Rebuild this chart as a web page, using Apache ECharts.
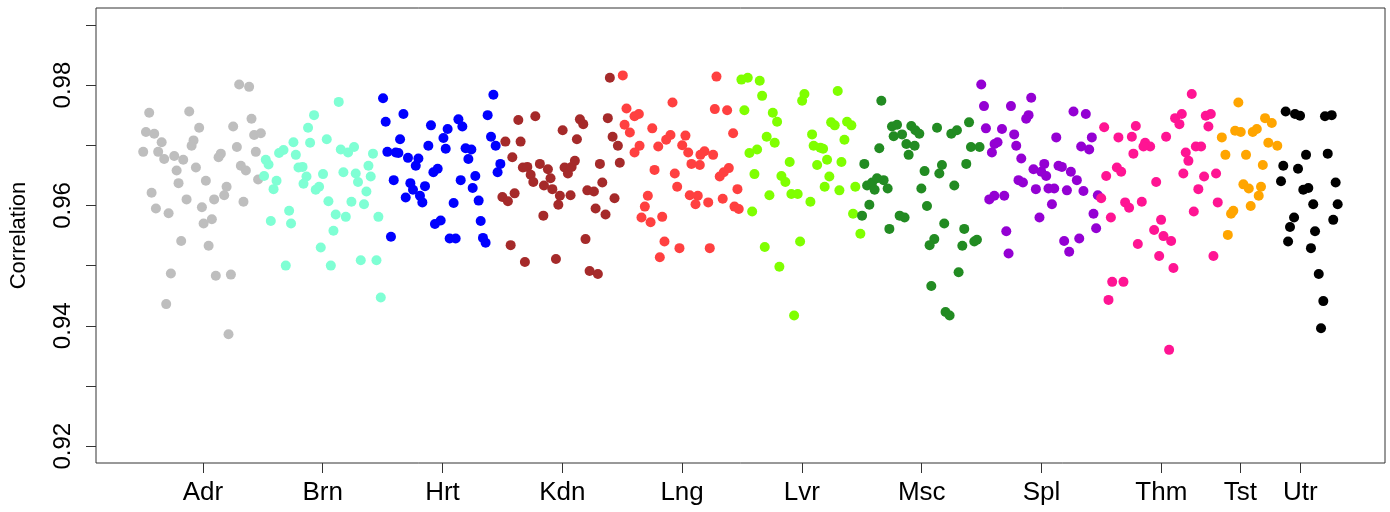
<!DOCTYPE html>
<html>
<head>
<meta charset="utf-8">
<script src="https://cdn.jsdelivr.net/npm/echarts@6/dist/echarts.min.js"></script>
<style>html,body{margin:0;padding:0;background:#fff;}#chart{width:1390px;height:512px;}</style>
</head>
<body>
<div id="chart"></div>
<script>
const categories = ['Adr','Brn','Hrt','Kdn','Lng','Lvr','Msc','Spl','Thm','Tst','Utr'];
const positions = [1,2,3,4,5,6,7,8,9,9.66,10.16];
const colors = ['#BEBEBE','#7FFFD4','#0000FF','#A52A2A','#FF4040','#7FFF00','#228B22','#9400D3','#FF1493','#FFA500','#000000'];
const yTicks = [0.92,0.93,0.94,0.95,0.96,0.97,0.98,0.99];
const yLabels = [0.92,0.94,0.96,0.98];

const adrX = [1.303,1.386,0.552,0.886,1.406,0.969,1.253,0.525,0.594,1.428,1.484,0.656,0.922,0.906,0.502,0.627,1.284,1.442,0.677,0.761,0.836,1.150,1.131,0.942,0.781,1.317,1.359,1.461,0.797,1.025,0.572,1.198,1.178,0.864,1.094,1.339,0.608,0.714,0.992,1.075,1.006,0.819,1.048,0.733,1.108,1.234,0.694,1.214];
const adrY = [0.9801,0.9797,0.9754,0.9756,0.9744,0.9729,0.9731,0.9722,0.9719,0.9717,0.9720,0.9705,0.9708,0.9699,0.9689,0.9689,0.9697,0.9689,0.9677,0.9682,0.9676,0.9686,0.9680,0.9663,0.9658,0.9666,0.9658,0.9643,0.9637,0.9641,0.9621,0.9631,0.9617,0.9610,0.9610,0.9606,0.9595,0.9587,0.9597,0.9577,0.9570,0.9541,0.9533,0.9487,0.9483,0.9485,0.9436,0.9386];
const brnX = [2.134,1.928,1.878,1.756,1.895,2.034,1.673,1.636,1.776,2.151,2.212,2.262,2.420,1.525,1.548,2.382,1.798,1.832,1.511,1.615,1.590,1.865,1.840,2.003,2.173,2.276,2.295,2.401,1.970,1.942,2.365,2.048,2.240,2.345,1.720,1.567,1.736,2.109,2.193,2.465,2.090,1.984,1.692,2.068,2.318,2.449,2.485];
const brnY = [0.9772,0.9750,0.9729,0.9705,0.9704,0.9710,0.9692,0.9687,0.9684,0.9693,0.9688,0.9697,0.9686,0.9676,0.9668,0.9666,0.9663,0.9664,0.9649,0.9641,0.9627,0.9648,0.9636,0.9652,0.9655,0.9653,0.9639,0.9648,0.9631,0.9626,0.9623,0.9607,0.9606,0.9602,0.9591,0.9574,0.9570,0.9585,0.9581,0.9581,0.9558,0.9530,0.9500,0.9500,0.9509,0.9509,0.9447];
const hrtX = [2.504,3.425,2.674,2.526,2.904,3.377,3.133,3.166,3.043,2.646,3.008,3.405,3.444,2.540,2.610,2.632,2.882,3.027,3.193,3.241,2.712,2.799,2.777,3.216,3.483,2.960,2.924,3.460,2.593,2.732,3.152,3.274,2.854,2.754,3.252,2.693,2.812,2.832,3.302,3.093,2.985,2.937,3.319,2.570,3.060,3.110,3.338,3.360];
const hrtY = [0.9778,0.9784,0.9752,0.9739,0.9733,0.9750,0.9743,0.9731,0.9727,0.9710,0.9712,0.9714,0.9699,0.9689,0.9688,0.9687,0.9699,0.9694,0.9695,0.9693,0.9679,0.9678,0.9666,0.9677,0.9669,0.9661,0.9655,0.9655,0.9642,0.9637,0.9642,0.9649,0.9632,0.9626,0.9629,0.9613,0.9616,0.9605,0.9608,0.9604,0.9575,0.9569,0.9574,0.9548,0.9545,0.9545,0.9546,0.9538];
const kdnX = [3.633,3.775,4.003,4.147,4.175,4.380,3.525,3.652,4.122,4.420,4.464,3.583,3.671,3.708,3.813,3.736,3.758,3.880,3.902,3.847,3.917,4.019,4.047,4.078,4.105,4.314,4.480,4.334,4.209,4.264,3.500,3.546,3.602,3.980,4.069,3.967,3.842,4.278,4.361,4.436,4.194,3.569,3.688,3.947,4.228,4.297,4.397];
const kdnY = [0.9742,0.9748,0.9725,0.9743,0.9735,0.9745,0.9706,0.9706,0.9710,0.9714,0.9699,0.9680,0.9663,0.9664,0.9669,0.9651,0.9639,0.9660,0.9645,0.9633,0.9627,0.9663,0.9653,0.9664,0.9674,0.9669,0.9671,0.9638,0.9625,0.9623,0.9614,0.9607,0.9620,0.9616,0.9617,0.9601,0.9583,0.9595,0.9585,0.9612,0.9544,0.9534,0.9506,0.9511,0.9491,0.9486,0.9812];
const lngX = [4.505,5.287,4.920,4.536,4.603,4.639,5.273,5.376,4.520,4.564,4.751,5.426,4.903,4.867,5.028,4.801,4.645,4.603,5.001,5.051,5.187,5.153,5.259,5.078,5.148,4.770,4.939,5.390,5.348,5.314,4.959,5.462,4.714,5.064,5.131,5.112,5.218,5.339,5.437,5.473,4.689,4.661,4.737,4.834,4.853,4.978,5.231,4.814];
const lngY = [0.9816,0.9814,0.9771,0.9761,0.9748,0.9752,0.9760,0.9758,0.9734,0.9721,0.9728,0.9720,0.9717,0.9709,0.9716,0.9698,0.9699,0.9688,0.9700,0.9688,0.9690,0.9684,0.9684,0.9669,0.9667,0.9659,0.9653,0.9662,0.9655,0.9648,0.9631,0.9627,0.9616,0.9617,0.9616,0.9602,0.9605,0.9611,0.9598,0.9594,0.9598,0.9580,0.9572,0.9581,0.9540,0.9529,0.9529,0.9514];
const lvrX = [5.495,5.548,5.648,5.668,6.299,6.021,6.002,5.520,5.757,5.793,6.244,6.274,6.377,6.413,5.706,5.773,6.085,6.355,5.626,5.562,6.098,6.154,6.177,5.898,6.127,6.210,6.330,5.604,5.829,5.862,6.229,6.190,6.313,6.446,5.729,5.912,5.965,6.071,5.585,6.427,5.690,5.985,5.812,5.935,6.488];
const lvrY = [0.9809,0.9812,0.9807,0.9782,0.9790,0.9785,0.9774,0.9758,0.9754,0.9739,0.9738,0.9733,0.9739,0.9733,0.9714,0.9704,0.9718,0.9709,0.9693,0.9687,0.9699,0.9696,0.9694,0.9672,0.9667,0.9676,0.9672,0.9652,0.9649,0.9639,0.9648,0.9631,0.9625,0.9631,0.9617,0.9619,0.9619,0.9606,0.9590,0.9586,0.9531,0.9540,0.9498,0.9417,0.9553];
const mscX = [6.663,6.752,6.794,6.766,6.836,6.913,6.947,6.980,6.872,6.941,6.891,6.646,7.128,7.247,7.294,7.395,7.411,7.483,6.521,7.024,7.169,7.147,7.372,6.544,6.586,6.627,6.682,6.607,6.716,6.997,7.272,6.563,6.502,7.044,6.816,6.857,6.730,7.188,7.355,7.105,7.066,7.339,7.439,7.461,7.308,7.080,7.199,7.233];
const mscY = [0.9774,0.9731,0.9734,0.9715,0.9718,0.9732,0.9725,0.9719,0.9702,0.9699,0.9684,0.9695,0.9729,0.9719,0.9725,0.9738,0.9697,0.9697,0.9669,0.9657,0.9667,0.9653,0.9669,0.9633,0.9638,0.9645,0.9642,0.9626,0.9628,0.9628,0.9633,0.9601,0.9583,0.9599,0.9583,0.9580,0.9561,0.9570,0.9561,0.9544,0.9534,0.9533,0.9540,0.9543,0.9489,0.9466,0.9423,0.9417];
const splX = [7.497,7.520,7.745,7.914,7.892,7.872,8.267,8.370,7.536,7.670,7.772,8.123,8.420,7.633,7.608,7.789,7.586,8.331,8.398,7.831,8.023,7.933,7.998,8.039,8.142,8.170,8.245,8.295,7.808,7.845,7.953,8.058,8.106,8.212,8.350,8.470,7.564,7.606,7.689,8.087,7.983,8.434,8.456,7.706,8.189,8.315,7.725,8.231];
const splY = [0.9801,0.9765,0.9765,0.9779,0.9750,0.9744,0.9756,0.9752,0.9728,0.9727,0.9718,0.9713,0.9713,0.9705,0.9702,0.9699,0.9688,0.9698,0.9693,0.9678,0.9669,0.9660,0.9656,0.9649,0.9666,0.9664,0.9656,0.9642,0.9642,0.9638,0.9627,0.9628,0.9628,0.9625,0.9624,0.9617,0.9610,0.9616,0.9616,0.9602,0.9580,0.9586,0.9562,0.9557,0.9541,0.9545,0.9520,0.9523];
const thmX = [9.254,8.523,8.787,8.642,8.754,9.040,8.865,8.907,8.851,8.767,9.115,9.171,9.151,9.371,9.413,9.393,9.288,9.332,9.204,9.226,9.184,9.357,9.457,8.540,8.629,8.665,8.957,9.309,8.498,8.698,8.731,8.837,9.471,9.271,8.579,8.998,8.940,9.018,9.082,8.804,8.982,9.435,9.101,8.590,8.684,8.559,9.065];
const thmY = [0.9785,0.9730,0.9732,0.9713,0.9714,0.9714,0.9704,0.9698,0.9698,0.9686,0.9745,0.9752,0.9735,0.9749,0.9752,0.9731,0.9698,0.9698,0.9688,0.9674,0.9653,0.9648,0.9653,0.9649,0.9663,0.9656,0.9639,0.9627,0.9612,0.9605,0.9596,0.9606,0.9605,0.9590,0.9580,0.9576,0.9559,0.9549,0.9541,0.9536,0.9516,0.9516,0.9496,0.9473,0.9473,0.9443,0.9360];
const tstX = [9.643,9.866,9.922,9.616,9.663,9.763,9.797,9.505,9.893,9.968,9.535,9.707,9.847,9.685,9.730,9.832,9.813,9.746,9.601,9.582,9.555];
const tstY = [0.9771,0.9745,0.9737,0.9724,0.9722,0.9722,0.9727,0.9713,0.9704,0.9699,0.9684,0.9684,0.9667,0.9635,0.9628,0.9631,0.9616,0.9599,0.9591,0.9586,0.9551];
const utrX = [10.038,10.116,10.158,10.366,10.422,10.208,10.389,10.018,10.141,9.999,10.455,10.185,10.227,10.268,10.472,10.108,10.074,10.435,10.283,10.058,10.249,10.314,10.352,10.333];
const utrY = [0.9756,0.9752,0.9749,0.9748,0.9750,0.9684,0.9686,0.9666,0.9661,0.9640,0.9638,0.9626,0.9629,0.9602,0.9602,0.9580,0.9564,0.9576,0.9557,0.9540,0.9529,0.9486,0.9441,0.9396];

const groupX = [adrX,brnX,hrtX,kdnX,lngX,lvrX,mscX,splX,thmX,tstX,utrX];
const groupY = [adrY,brnY,hrtY,kdnY,lngY,lvrY,mscY,splY,thmY,tstY,utrY];

const FONT = '"Liberation Sans", Arial, sans-serif';
const series = categories.map((name, i) => ({
  name: name,
  type: 'scatter',
  symbol: 'circle',
  symbolSize: 10,
  itemStyle: { color: colors[i], opacity: 1 },
  data: groupX[i].map((x, j) => [x, groupY[i][j]])
}));

const chart = echarts.init(document.getElementById('chart'), null, { renderer: 'canvas' });
chart.setOption({
  animation: false,
  backgroundColor: '#ffffff',
  grid: { left: 95, right: 5, top: 8, bottom: 49, show: true, borderColor: '#333', borderWidth: 1, backgroundColor: 'transparent' },
  xAxis: {
    type: 'value', min: 0.108, max: 10.867,
    axisLine: { show: false },
    splitLine: { show: false },
    axisTick: { show: true, inside: false, length: 10, customValues: positions, lineStyle: { color: '#333', width: 1 } },
    axisLabel: {
      show: true, customValues: positions, margin: 17, color: '#000', fontSize: 26, fontFamily: FONT,
      formatter: function (v) { const k = positions.findIndex(p => Math.abs(p - v) < 1e-6); return k >= 0 ? categories[k] : ''; }
    }
  },
  yAxis: {
    type: 'value', min: 0.9172, max: 0.9928,
    name: 'Correlation', nameLocation: 'middle', nameRotate: 90, nameGap: 66,
    nameTextStyle: { color: '#000', fontSize: 22, fontFamily: FONT },
    axisLine: { show: false },
    splitLine: { show: false },
    axisTick: { show: true, inside: false, length: 10, customValues: yTicks, lineStyle: { color: '#333', width: 1 } },
    axisLabel: {
      show: true, customValues: yLabels, rotate: 90, margin: 21, color: '#000', fontSize: 24, fontFamily: FONT,
      formatter: function (v) { return v.toFixed(2); }
    }
  },
  series: series
});
</script>
</body>
</html>
